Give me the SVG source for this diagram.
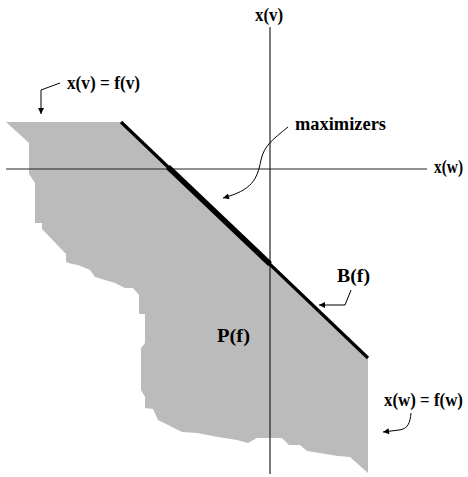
<svg xmlns="http://www.w3.org/2000/svg" width="468" height="477" viewBox="0 0 468 477">
<style>
.lbl{font-family:"Liberation Serif","Times New Roman",serif;font-weight:bold;font-size:18px;fill:#000}
.lead{fill:none;stroke:#000;stroke-width:1}
.axis{stroke:#222;stroke-width:1.2}
</style>
<defs>
<marker id="ah" viewBox="0 0 10 10" refX="10" refY="5" markerWidth="7" markerHeight="6" markerUnits="userSpaceOnUse" orient="auto">
<path d="M0,0 L10,5 L0,10 Z" fill="#000"/>
</marker>
</defs>
<rect width="468" height="477" fill="#fff"/>
<g id="region-Pf">
<polygon fill="#bbbbbb" points="6,122 121,122 368,358 368,473 350,457 338,456 307,451 300,445 289,445 282,438 257,438 248,443 237,440 218,437 197,433 182,432 158,420 153,409 145,408 145,397 141,390 141,348 145,343 145,314 139,314 139,295 133,288 125,288 115,283 95,277 90,270 78,265 72,264 66,262 66,254 42,229 42,223 35,223 35,183 29,174 29,143"/>
</g>
<g id="axes">
<line class="axis" x1="6" y1="169" x2="427" y2="169"/>
<line class="axis" x1="270" y1="27" x2="270" y2="474"/>
</g>
<g id="boundary-Bf">
<line x1="121" y1="122" x2="368" y2="358" stroke="#000" stroke-width="3.2" stroke-linecap="butt"/>
<line x1="168" y1="167" x2="270" y2="264" stroke="#000" stroke-width="5.5"/>
</g>
<g id="connectors">
<path class="lead" d="M60,83 L41,90 L41,114" marker-end="url(#ah)"/>
<path class="lead" d="M288,127 C272,140 264,146 261,160 C257,180 252,190 223,198" marker-end="url(#ah)"/>
<path class="lead" d="M351,290 L345,305 L319,305" marker-end="url(#ah)"/>
<path class="lead" d="M411,413 C410,423 408,429 399,430 L383,432" marker-end="url(#ah)"/>
</g>
<g id="labels">
<text class="lbl" x="255" y="21" textLength="28" lengthAdjust="spacingAndGlyphs">x(v)</text>
<text class="lbl" x="434" y="173" textLength="29" lengthAdjust="spacingAndGlyphs">x(w)</text>
<text class="lbl" x="67" y="89" textLength="73" lengthAdjust="spacingAndGlyphs">x(v) = f(v)</text>
<text class="lbl" x="295" y="130" textLength="91" lengthAdjust="spacingAndGlyphs">maximizers</text>
<text class="lbl" x="337" y="282" textLength="33" lengthAdjust="spacingAndGlyphs">B(f)</text>
<text class="lbl" x="217" y="342" textLength="33" lengthAdjust="spacingAndGlyphs">P(f)</text>
<text class="lbl" x="384" y="406" textLength="79" lengthAdjust="spacingAndGlyphs">x(w) = f(w)</text>
</g>
</svg>
